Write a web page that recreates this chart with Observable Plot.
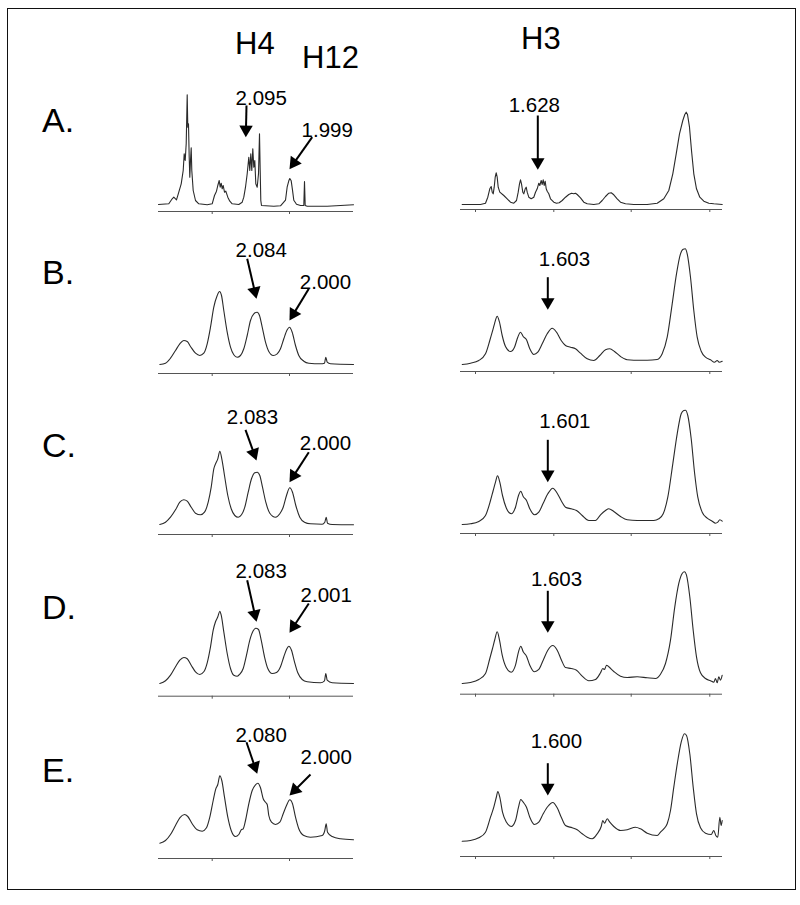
<!DOCTYPE html>
<html><head><meta charset="utf-8">
<script src="https://cdn.jsdelivr.net/npm/d3@7"></script>
<script src="https://cdn.jsdelivr.net/npm/@observablehq/plot@0.6"></script>
<style>
body{margin:0;background:#fff;}
#fig{position:relative;width:800px;height:905px;overflow:hidden;font-family:"Liberation Sans",Arial,sans-serif;background:#fff;}
#frame{position:absolute;left:7px;top:8px;width:789px;height:882px;border:1.5px solid #111;box-sizing:border-box;}
.lab{position:absolute;line-height:1;white-space:nowrap;color:#000;}
.panel{position:absolute;}
.panel svg{overflow:visible;background:transparent;}
</style></head><body><div id="fig"><div id="frame"></div></div>
<script>
// ---- text ----
const rowLabels = ["A.", "B.", "C.", "D.", "E."];
const columnLabels = ["H4", "H12", "H3"];

// ---- spectra: [position, intensity] ----
const h4A = [[0,0],[10.3,0.7],[13.7,5.7],[15.3,7.3],[18,4.7],[20.3,12.3],[22.7,20.7],[24.7,34],[25.7,50.7],[26.7,44],[27.7,60.7],[28.7,109.7],[29.3,77.3],[30,80.7],[30.7,47.3],[31.3,27.3],[32,44],[32.7,56.7],[33.3,34],[34.7,14],[37,4],[40.3,0.7],[48.7,-0.3],[53.7,0.7],[56,9],[58,13.3],[59.3,19],[60.7,24],[61.7,17.3],[62.7,21.3],[63.7,15.7],[64.7,19],[66,12.3],[67.3,13.3],[69.3,7.3],[71.3,3.3],[73.7,0.7],[80.3,0],[83.7,2.3],[85.3,7.3],[87,17.3],[88.7,30.7],[90.3,47.3],[91.3,34],[92.3,50.7],[93.3,34],[94.3,55.7],[95.3,37.3],[96.3,44],[97.3,20.7],[98.7,17.3],[100,30.7],[101,70.7],[101.7,34],[102.3,4],[103,-1],[115.3,-1.7],[122,-1.3],[127,4.3],[128.7,17.7],[130.3,23.7],[131.3,26],[132.7,23.7],[134,14.3],[135.3,4.3],[138,0.3],[142,-1],[145.3,-1],[146,23],[146.7,-1],[148.7,-1.7],[168.7,-1.7],[182,-1],[195,-0.3]];
const h3A = [[1.7,0],[20,0],[25,1.3],[27.3,7.3],[29.3,15.7],[30.7,18],[31.7,12.3],[32.7,10.7],[33.7,17.3],[34.7,27.3],[35.7,31.7],[36.7,27.3],[37.7,17.3],[39.3,12.3],[43.3,9],[46.7,5.7],[50,2.3],[53.3,1.3],[56,4],[57.7,12.3],[59,20.7],[60,24.7],[61,20.7],[62.3,12.3],[63.3,10.7],[64.7,15.7],[65.7,17.3],[66.7,12.3],[68.3,7.3],[70.7,5.7],[73.3,7.3],[75,12.3],[76.7,15.7],[78.3,21.3],[79.3,19],[80.7,24],[81.7,20],[82.7,24.7],[83.7,19],[84.7,23.3],[85.7,15.7],[86.7,13.3],[88.3,10.7],[90,5.7],[93.3,2.3],[96,1.3],[98.7,1.7],[101.7,4],[105,7.3],[108.3,10],[111,11.3],[113.3,10.7],[115,11.3],[116.7,10],[120,6.7],[123.3,2.3],[126.7,0.7],[133.3,0],[138.3,0.7],[141.7,4],[145,8],[148.3,11.3],[150.7,11.7],[153.3,9.7],[156.7,5.7],[160,2.3],[165,0.7],[173.3,0],[186.7,0],[196.7,1.3],[203.3,5.7],[208.3,14],[212.3,30.7],[215.7,50.7],[219,70.7],[222.3,84],[224.3,90],[225.7,92.3],[227,90],[229,77.3],[231,54],[233.3,30.7],[236,15.7],[239.3,7.3],[243.3,3.3],[248.3,1.3],[253.3,0.7],[261.7,0]];
const h4B = [[1.3,0],[7,1.3],[12,6.3],[17,14],[21.3,20.7],[25.3,24],[28.7,23],[32,18],[37,11.3],[41.3,9],[45.3,11.3],[48.7,20.7],[52,37.3],[55.3,57.3],[58.7,69],[61,73],[63,69],[65.3,54],[68.7,32.3],[72,17.3],[75.3,9.7],[78.7,7.3],[82,9],[85.3,15.7],[88.7,29],[92,44],[95.3,50.7],[98.7,52.3],[101,49],[103.7,37.3],[107,22.3],[110.3,13],[114.7,9],[118.7,10.7],[122,15.7],[125.3,25.7],[128.7,34.7],[131,37.3],[133.7,32.3],[137,19],[140.3,9],[145.3,3.3],[150.3,1.3],[162,0.7],[166,1.3],[167.3,7.3],[168.7,2.3],[172,0.7],[195,0]];
const h3B = [[1.7,0],[10,1.3],[18.3,4],[25,10.7],[29.3,24],[31.7,32.3],[34,40.7],[36.7,48.3],[39,42.3],[41.7,29],[45,18],[50,13],[54,17.3],[57.3,27.3],[60,32.3],[62.7,28],[66,24.7],[69.3,15.7],[73.3,10],[77.3,12.3],[81.7,20.7],[86.7,30.7],[91.7,36.3],[96,32.3],[100.7,24],[105,19],[110,17.3],[115,15.7],[120,11.3],[126.7,5.7],[133.3,4],[139.3,9],[145,14.7],[149.3,15.7],[154,13],[160,8],[166.7,4.7],[173.3,4.3],[186.7,4.3],[196.7,5],[201.7,10.7],[206.7,27.3],[211.7,60.7],[216,90.7],[220,110.7],[222.7,115.3],[224.7,115.7],[226.7,110.7],[230,87.3],[233.3,54],[236.7,27.3],[240.7,13.3],[245,7.3],[250,4.7],[254,2.3],[256.7,4],[258.7,2.3],[261.7,3.3]];
const h4C = [[1.3,0],[7,2.3],[12,7.3],[17,14.7],[21.3,22.3],[25.3,24.7],[28.7,23.3],[32.7,17.3],[37,11.3],[42,9.7],[46,12.3],[49.7,22.3],[52.7,37.3],[55.3,55.7],[57.3,61.3],[59.3,65.7],[61.3,73.3],[63.3,65.7],[66,49],[69.3,29],[72.7,15.7],[76.3,9],[79.7,7.3],[83,9.7],[86.3,17.3],[89.7,32.3],[93,45.7],[96.3,51.7],[98.7,52.3],[101.3,49],[104,37.3],[107.3,22.3],[111.3,11.3],[117,7.3],[121.3,10.7],[124.7,17.3],[128,29],[131.3,36.7],[134,32.3],[137.3,19],[141.3,7.3],[146,2.3],[152,0.7],[163.7,0.3],[166.3,2.3],[167.7,7.3],[169,1.3],[173.7,0],[195,-0.3]];
const h3C = [[1.7,0],[10,0.7],[18.3,3],[25,9],[30,24],[32.7,34],[35,42.3],[37,48.7],[39.3,42.3],[42,29],[45.7,16.7],[50.7,10.7],[55,17.3],[58,29],[60.3,33.3],[62.7,28],[66,24],[69.3,15.7],[74,9.7],[78.3,12.3],[82.7,21.3],[87.3,30.7],[92.3,36.3],[96.7,31.3],[101,23.3],[105,17.3],[110.7,15.7],[116,14],[121.7,9],[128.3,4],[135,4],[140,9.7],[145,14],[148.3,15.7],[153.3,13],[160,8],[166.7,4.7],[176.7,4],[193.3,4],[198.3,5.7],[202.7,10.7],[207.3,27.3],[212.3,60.7],[216.7,90.7],[220.7,110.7],[223.3,114],[225,114.3],[227.3,109],[230.7,85.7],[234,52.3],[237.3,27.3],[241.7,12.3],[246.7,6.3],[251.7,3.3],[255,1.3],[257.3,2.3],[259.3,4.7],[261.7,3.3]];
const h4D = [[1.3,0],[7,2.7],[12,8.3],[17,16.7],[21.3,23.3],[25.3,26],[28.7,24.7],[32.7,18.3],[37,11.7],[41.3,9],[45.3,11.7],[48.7,20.7],[52,36.7],[54.7,53.3],[57,61.7],[59.3,66.7],[61.3,72.3],[62.7,68.3],[65.3,51.7],[68.7,30],[72,15],[75.3,8.3],[78.7,7.3],[81.3,9.3],[84.7,15],[88,28.3],[91.3,43.3],[94.7,52.7],[97.3,55.3],[100,54],[102.7,43.3],[106,26.7],[109.3,15],[113.7,10],[118,11],[122,16.7],[125.3,26.7],[128,34],[130.3,37.3],[133,33.3],[136,21.7],[139.3,10.7],[143.7,4],[148.7,1.7],[162,0.7],[166,2.7],[167.3,10],[168.7,3.3],[173.7,0.7],[195,0]];
const h3D = [[1.7,0],[10,1],[18.3,4],[25,10],[29.3,25],[32,35],[34.3,44],[36.7,51.7],[39,43.3],[41.7,28.3],[45.7,16],[50.7,11.3],[55,18.3],[58,31.7],[60.3,37.3],[62.7,31.7],[66,27.3],[69.3,18.3],[74,11.7],[78.3,14],[82.7,23.3],[87.3,33.3],[92.3,38],[96.7,33.3],[101,23.3],[105,16],[110.7,15],[116,13.3],[121.7,7.3],[128.3,2.7],[135,4],[140,10.7],[142.3,15],[144,14],[146,18.3],[148.3,16.7],[153.3,12],[160,7.3],[166.7,6],[176.7,6.7],[186.7,5.7],[195,5],[200,9.3],[205,20],[210,43.3],[214.3,76.7],[218.3,100],[221.7,110],[224,111.7],[226,108.3],[229.3,86.7],[232.7,53.3],[236,26.7],[240,10.7],[245,5],[250,2.7],[253.3,1.3],[255,5],[256.7,0.7],[258.3,6.7],[260,3.3],[261.7,8.3]];
const h4E = [[1.3,0.3],[7,3],[12,9],[17,18],[21.3,25.7],[26,29],[29.3,27],[33.7,19.7],[38.7,13.7],[43.7,12.3],[48,15.7],[51.3,26.3],[54.7,43],[57.3,54.7],[59.3,59],[61.3,67.7],[63.3,63],[66,46.3],[69.3,26.3],[72.7,13],[77,7],[80.3,9],[82.7,13.7],[84.7,14.7],[87,23],[90.3,39.7],[93.7,53],[97,58.7],[99.3,60.3],[102,55.7],[104.7,44.7],[107,41.3],[108.7,39],[110.3,28],[113,21.3],[117,19],[121.3,21.3],[124.7,29.7],[128,38],[131.3,43.7],[134,39.7],[137,26.3],[140.3,14.7],[145.3,8],[152,6.3],[163.7,8],[166.3,13],[167.7,19.7],[169,11.3],[173.7,7],[182,4.7],[195,3.7]];
const h3E = [[1.7,0.3],[10,1],[18.3,3.7],[25,9.3],[30,24.3],[33.3,34.3],[36,45],[37.3,50],[39.3,44.3],[42,29.3],[46,19.3],[50.7,15],[55,21],[58,34.3],[60.3,42],[62.7,39.3],[66,34.3],[69.3,24.3],[74,17],[78.3,19.3],[82.7,27.7],[87.3,35],[92.3,39],[96.7,33.7],[101,23.7],[105,16],[111.7,13.7],[116.7,11.7],[121.7,7.7],[126.7,4.3],[131.7,2.7],[136.7,7.7],[140.7,15],[142.3,21],[144,18.3],[146.7,22.7],[149.3,19.3],[153.3,15],[160,11],[166.7,11.7],[175,14.3],[180,12.7],[186.7,8.3],[196.7,6],[200,9.3],[203.3,12.7],[206.7,17.7],[210,31],[213.3,54.3],[217.3,81],[220.7,99.3],[224,107.7],[226,106],[229.3,87.7],[232.7,54.3],[236,27.7],[240,13.7],[245,8.3],[250.7,7],[253.3,11],[255.3,6],[257.3,4.3],[259.3,24.3],[260.7,16],[261.7,21]];

// ---- axis ticks (positions along each panel's axis) ----
const h4Ticks = [53.7, 131];
const h3Ticks = [15, 93.3, 170.7, 249.3];

// ---- peak annotations: label, label point, arrow from -> to ----
const notesA4 = [{label:"2.095", x:102.7, y:105.7, x1:88, y1:99, x2:87.3, y2:67.3}, {label:"1.999", x:168.7, y:74, x1:153.7, y1:67.3, x2:131, y2:35.3}];
const notesA3 = [{label:"1.628", x:73.8, y:99.5, x1:77.3, y1:89, x2:77.3, y2:34.7}];
const notesB4 = [{label:"2.084", x:102.7, y:114, x1:88.7, y1:105.7, x2:98, y2:65.7}, {label:"2.000", x:167, y:82.3, x1:150.3, y1:75.7, x2:131, y2:44}];
const notesB3 = [{label:"1.603", x:104, y:104.7, x1:87.3, y1:87.3, x2:87.3, y2:54.7}];
const notesC4 = [{label:"2.083", x:94, y:106.7, x1:87, y1:94.7, x2:98, y2:64}, {label:"2.000", x:167, y:80.7, x1:150.3, y1:72.3, x2:131, y2:42.3}];
const notesC3 = [{label:"1.601", x:104.3, y:103.3, x1:87.3, y1:84.7, x2:87.3, y2:42.3}];
const notesD4 = [{label:"2.083", x:102.7, y:111.7, x1:88.7, y1:103.3, x2:98, y2:61.7}, {label:"2.001", x:167.7, y:88.3, x1:150.3, y1:80, x2:131, y2:50.7}];
const notesD3 = [{label:"1.603", x:96, y:104, x1:87.3, y1:92.7, x2:87.3, y2:50.7}];
const notesE4 = [{label:"2.080", x:102.7, y:108, x1:88, y1:101.3, x2:98.7, y2:69.7}, {label:"2.000", x:167.7, y:86.3, x1:152, y1:69, x2:131, y2:48}];
const notesE3 = [{label:"1.600", x:96, y:100.3, x1:87.3, y1:78.3, x2:87.3, y2:46}];

// ---- layout (pixels) ----
const FONT = "Liberation Sans, Arial, sans-serif";
const colGeom = {h4: {left: 158, width: 195}, h3: {left: 460, width: 262}};
const rowGeom = [
  {h4: h4A, h3: h3A, n4: notesA4, n3: notesA3, lb: 204, la: 211, rb: 204, ra: 209, labBase: 132, curve: "linear"},
  {h4: h4B, h3: h3B, n4: notesB4, n3: notesB3, lb: 364, la: 373, rb: 364, ra: 371, labBase: 284, curve: "monotone-x"},
  {h4: h4C, h3: h3C, n4: notesC4, n3: notesC3, lb: 524, la: 534, rb: 524, ra: 533, labBase: 457, curve: "monotone-x"},
  {h4: h4D, h3: h3D, n4: notesD4, n3: notesD3, lb: 683.3, la: 696, rb: 683.3, ra: 694, labBase: 619, curve: "monotone-x"},
  {h4: h4E, h3: h3E, n4: notesE4, n3: notesE3, lb: 843, la: 858, rb: 841, ra: 856, labBase: 782, curve: "monotone-x"}
];
const headerGeom = [
  {left: 235, base: 54}, {left: 302, base: 68}, {left: 521, base: 49}
];

const fig = document.getElementById("fig");
function addLabel(text, left, baseline, size) {
  const d = document.createElement("div");
  d.className = "lab";
  d.textContent = text;
  d.style.fontSize = size + "px";
  d.style.left = left + "px";
  d.style.top = (baseline - 0.8465 * size) + "px";
  fig.appendChild(d);
}

const HEAD_R = 5;
const HEAD_BACK = 2 * Math.sqrt(Math.PI * HEAD_R * HEAD_R / (3 * Math.sqrt(3)));

function panel(series, ticks, notes, geom, baseY, axisY, curve) {
  const top = baseY - 135;
  const mb = 6;
  const h = axisY - top + mb;
  const ymin = -(axisY - baseY), ymax = baseY - top;
  const arrows = notes.map(n => {
    const dx = n.x2 - n.x1, dy = n.y2 - n.y1, L = Math.hypot(dx, dy);
    return {...n, hx: n.x2 - dx / L * HEAD_BACK, hy: n.y2 - dy / L * HEAD_BACK,
            angle: Math.atan2(dx, dy) * 180 / Math.PI};
  });
  const svg = Plot.plot({
    width: geom.width, height: h,
    marginLeft: 0, marginRight: 0, marginTop: 0, marginBottom: mb,
    x: {domain: [0, geom.width], range: [0, geom.width], axis: null},
    y: {domain: [ymin, ymax], range: [h - mb, 0], axis: null},
    style: {background: "transparent", overflow: "visible"},
    marks: [
      Plot.ruleY([ymin], {stroke: "#555", strokeWidth: 1}),
      Plot.axisX(ticks, {tickSize: 3, tickFormat: () => "", stroke: "#555"}),
      Plot.line(series, {x: d => d[0], y: d => d[1], stroke: "#2a2a2a", strokeWidth: 1.1, curve}),
      Plot.link(arrows, {x1: "x1", y1: "y1", x2: "hx", y2: "hy", stroke: "#000", strokeWidth: 2}),
      Plot.dot(arrows, {x: "hx", y: "hy", symbol: "triangle", r: HEAD_R, fill: "#000", stroke: "none", rotate: "angle"}),
      Plot.text(notes, {x: "x", y: "y", text: "label", fontSize: 20.5, fontFamily: FONT, fill: "#000"})
    ]
  });
  const wrap = document.createElement("div");
  wrap.className = "panel";
  wrap.style.left = geom.left + "px";
  wrap.style.top = top + "px";
  wrap.appendChild(svg);
  fig.appendChild(wrap);
}

rowGeom.forEach((r, i) => {
  panel(r.h4, h4Ticks, r.n4, colGeom.h4, r.lb, r.la, r.curve);
  panel(r.h3, h3Ticks, r.n3, colGeom.h3, r.rb, r.ra, r.curve);
  addLabel(rowLabels[i], 42, r.labBase, 34);
});
columnLabels.forEach((t, i) => addLabel(t, headerGeom[i].left, headerGeom[i].base, 31));
</script></body></html>
